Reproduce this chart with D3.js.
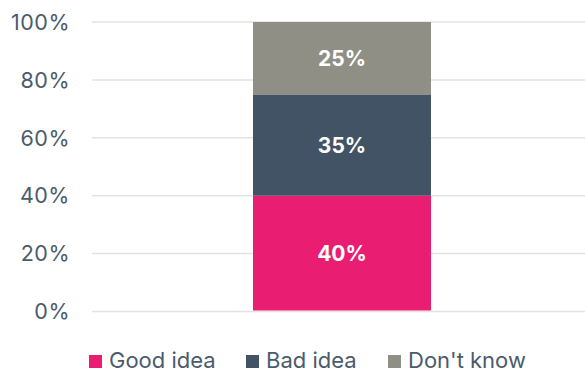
<!DOCTYPE html>
<html>
<head>
<script src="https://d3js.org/d3.v7.min.js"></script>
<style>
  body { margin: 0; background: #fff; font-family: Inter, "Noto Sans", sans-serif; }
</style>
</head>
<body>
<div id="chart"></div>
<script>
  const categories = ["All"];
  const seriesNames = ["Good idea", "Bad idea", "Don't know"];
  const seriesValues = [40, 35, 25];
  const colors = ["#e91e73", "#415364", "#8f8f86"];
  const yTicks = [0, 20, 40, 60, 80, 100];

  const width = 585, height = 373;
  const margin = {top: 22, right: 0, bottom: 62, left: 92};

  const svg = d3.select("#chart").append("svg")
    .attr("width", width).attr("height", height);

  const x = d3.scaleBand().domain(categories)
    .range([96, 588]).paddingInner(0).paddingOuter(0.882);
  const y = d3.scaleLinear().domain([0, 100]).range([height - margin.bottom + 0.5, margin.top]);

  // gridlines
  svg.append("g").selectAll("line").data(yTicks).join("line")
    .attr("x1", margin.left).attr("x2", width)
    .attr("y1", d => y(d)).attr("y2", d => y(d))
    .attr("stroke", "#e3e3e3").attr("stroke-width", 1.5);

  // y labels
  svg.append("g").selectAll("text").data(yTicks).join("text")
    .attr("x", 70).attr("y", d => y(d)).attr("dy", "0.36em")
    .attr("text-anchor", "end")
    .attr("font-size", 21.5).attr("letter-spacing", 0.5).attr("fill", "#4b5b6b")
    .text(d => d + "%");

  // stacked segments
  const stackData = [];
  let acc = 0;
  seriesValues.forEach((v, i) => {
    stackData.push({name: seriesNames[i], v, y0: acc, y1: acc + v, color: colors[i]});
    acc += v;
  });

  const bars = svg.append("g");
  bars.selectAll("rect").data(stackData).join("rect")
    .attr("x", x("All")).attr("width", x.bandwidth())
    .attr("y", d => y(d.y1)).attr("height", d => y(d.y0) - y(d.y1) - (d.y0 === 0 ? 1 : 0))
    .attr("fill", d => d.color);

  bars.selectAll("text").data(stackData).join("text")
    .attr("x", x("All") + x.bandwidth() / 2)
    .attr("y", d => y((d.y0 + d.y1) / 2)).attr("dy", "0.36em")
    .attr("text-anchor", "middle")
    .attr("font-weight", "bold").attr("font-size", 21).attr("fill", "#fff")
    .text(d => d.v + "%");

  // legend
  const legendX = [89, 246, 388];
  const legend = svg.append("g").selectAll("g").data(seriesNames).join("g")
    .attr("transform", (d, i) => `translate(${legendX[i]},355)`);
  legend.append("rect").attr("width", 13).attr("height", 13)
    .attr("fill", (d, i) => colors[i]);
  legend.append("text").attr("x", 20).attr("y", 13)
    .attr("font-size", 22).attr("fill", "#4b5b6b")
    .text(d => d);
</script>
</body>
</html>
